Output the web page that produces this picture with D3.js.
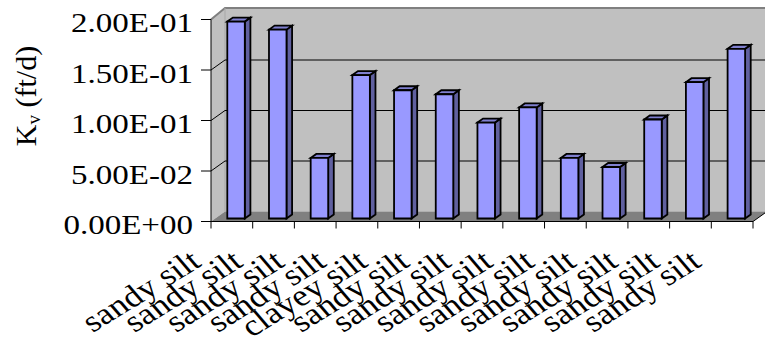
<!DOCTYPE html>
<html>
<head>
<meta charset="utf-8">
<script src="https://cdn.jsdelivr.net/npm/d3@7"></script>
<style>
  html, body { margin: 0; padding: 0; background: #fff; }
  svg { display: block; }
  text { fill: #000; }
</style>
</head>
<body>
<svg id="chart" width="765" height="343"></svg>
<script>
// Soil samples and their vertical hydraulic conductivity
const categories = [
  "sandy silt", "sandy silt", "sandy silt", "sandy silt", "clayey silt",
  "sandy silt", "sandy silt", "sandy silt", "sandy silt", "sandy silt",
  "sandy silt", "sandy silt", "sandy silt"
];
const kv = [0.195, 0.187, 0.060, 0.142, 0.127, 0.123, 0.095, 0.110, 0.060, 0.051, 0.098, 0.135, 0.168];
const yTickValues = [0, 0.05, 0.10, 0.15, 0.20];
const yTickLabels = ["0.00E+00", "5.00E-02", "1.00E-01", "1.50E-01", "2.00E-01"];

// pick the first installed Times-like face
const ctx = document.createElement("canvas").getContext("2d");
const widthIn = f => { ctx.font = `30px ${f}`; return ctx.measureText("sandy silt 2.00E-01").width; };
const mono = widthIn("monospace");
const serifFace = ["Liberation Serif", "Times New Roman", "Times", "Nimbus Roman", "FreeSerif", "Tinos"]
  .find(f => widthIn(`"${f}", monospace`) !== mono) || "DejaVu Serif";
const FONT = `"${serifFace}", serif`;

const svg = d3.select("#chart").style("font-family", FONT);

// front plane of the 3-D box
const left = 211, right = 753;
const y = d3.scaleLinear().domain([0, 0.2]).range([221.5, 19.5]);
const x = d3.scaleBand().domain(d3.range(categories.length))
  .range([left, right]).paddingInner(0.58).paddingOuter(0.29);

// oblique depth offset (full depth of the box)
const DX = 14, DY = -10;
const depth = t => [DX * t, DY * t];
const bar0 = depth(0.3), bar1 = depth(0.7);

const poly = pts => "M" + pts.map(p => p.join(",")).join("L") + "Z";

// walls
const y0 = y(0), yTop = y(0.2);
const wallTop = yTop + DY - 1.5;
svg.append("path") // back wall
  .attr("d", poly([[left + DX, wallTop], [right + DX + 20, wallTop],
                   [right + DX + 20, y0 + DY], [left + DX, y0 + DY]]))
  .attr("fill", "#c0c0c0");
svg.append("path") // side wall
  .attr("d", poly([[left, yTop], [left + DX, wallTop], [left + DX, y0 + DY], [left, y0]]))
  .attr("fill", "#c0c0c0");
svg.append("path") // wall top edge
  .attr("d", `M${left},${yTop}L${left + DX},${wallTop}L${right + DX + 20},${wallTop}`)
  .attr("fill", "none").attr("stroke", "#808080").attr("stroke-width", 2);
svg.append("line") // wall corner
  .attr("x1", left + DX).attr("x2", left + DX)
  .attr("y1", wallTop).attr("y2", y0 + DY)
  .attr("stroke", "#a8a8a8").attr("stroke-width", 1);

// gridlines on side and back walls
yTickValues.filter(v => v > 0 && v < 0.2).forEach(v => {
  svg.append("path")
    .attr("d", `M${left},${y(v)}L${left + DX},${y(v) + DY}L${right + DX + 20},${y(v) + DY}`)
    .attr("fill", "none").attr("stroke", "#000").attr("stroke-width", 1);
});

// floor
svg.append("path")
  .attr("d", poly([[left, y0], [right, y0], [right + DX, y0 + DY], [left + DX, y0 + DY]]))
  .attr("fill", "#808080");
svg.append("line")
  .attr("x1", right).attr("y1", y0).attr("x2", right + DX).attr("y2", y0 + DY)
  .attr("stroke", "#000").attr("stroke-width", 1);

// bars
const bw = x.bandwidth();
const bars = svg.append("g").attr("stroke", "#000").attr("stroke-width", 1.8)
  .attr("stroke-linejoin", "miter");
kv.forEach((v, i) => {
  const bx = x(i), yt = y(v), yb = y(0);
  const g = bars.append("g");
  g.append("path") // side face
    .attr("d", poly([[bx + bw + bar0[0], yt + bar0[1]], [bx + bw + bar1[0], yt + bar1[1]],
                     [bx + bw + bar1[0], yb + bar1[1]], [bx + bw + bar0[0], yb + bar0[1]]]))
    .attr("fill", "#60609f");
  g.append("path") // top face
    .attr("d", poly([[bx + bar0[0], yt + bar0[1]], [bx + bar1[0], yt + bar1[1]],
                     [bx + bw + bar1[0], yt + bar1[1]], [bx + bw + bar0[0], yt + bar0[1]]]))
    .attr("fill", "#7f7fcf");
  g.append("path") // front face
    .attr("d", poly([[bx + bar0[0], yt + bar0[1]], [bx + bw + bar0[0], yt + bar0[1]],
                     [bx + bw + bar0[0], yb + bar0[1]], [bx + bar0[0], yb + bar0[1]]]))
    .attr("fill", "#9999ff");
});

// axis text is drawn slightly wide: stretch from the top tick label's width
const FS = 28;
const measure = (s, fs) => {
  const t = svg.append("text").attr("font-size", fs).text(s);
  const w = t.node().getComputedTextLength();
  t.remove();
  return w;
};
const sx = 122 / measure(yTickLabels[4], FS);

// value axis
svg.append("line").attr("x1", left).attr("x2", left).attr("y1", yTop).attr("y2", y0)
  .attr("stroke", "#000").attr("stroke-width", 1);
yTickValues.forEach((v, k) => {
  svg.append("line").attr("x1", left - 10).attr("x2", left).attr("y1", y(v)).attr("y2", y(v))
    .attr("stroke", "#000").attr("stroke-width", 1);
  svg.append("text")
    .attr("transform", `translate(193,${y(v) + 12.5}) scale(${sx},1)`)
    .attr("text-anchor", "end")
    .attr("font-size", FS)
    .text(yTickLabels[k]);
});

// category axis
svg.append("line").attr("x1", left).attr("x2", right).attr("y1", y0).attr("y2", y0)
  .attr("stroke", "#000").attr("stroke-width", 1);
const step = x.step();
d3.range(categories.length + 1).forEach(k => {
  const tx = left + k * step;
  svg.append("line").attr("x1", tx).attr("x2", tx).attr("y1", y0).attr("y2", y0 + 7)
    .attr("stroke", "#000").attr("stroke-width", 1);
});
// slanted category labels: baseline runs about 110 px across and 68 px up
const runX = 110, runY = 68;
const angle = Math.atan2(runY * sx, runX) * 180 / Math.PI;
const baseLen = Math.hypot(runX / sx, runY);
const labelFS = 30 * baseLen / measure("sandy silt", 30);
categories.forEach((c, i) => {
  const cx = left + (i + 0.5) * step;
  svg.append("text")
    .attr("transform", `translate(${cx - 29},265) scale(${sx},1) rotate(${-angle})`)
    .attr("text-anchor", "end")
    .attr("font-size", labelFS)
    .text(c);
});

// axis title
const title = svg.append("text")
  .attr("transform", "translate(36,96) rotate(-90)")
  .attr("text-anchor", "middle")
  .attr("font-size", 30);
title.append("tspan").text("K");
title.append("tspan").attr("font-size", 19).attr("dy", 4).text("v");
title.append("tspan").attr("dy", -4).text(" (ft/d)");
</script>
</body>
</html>
